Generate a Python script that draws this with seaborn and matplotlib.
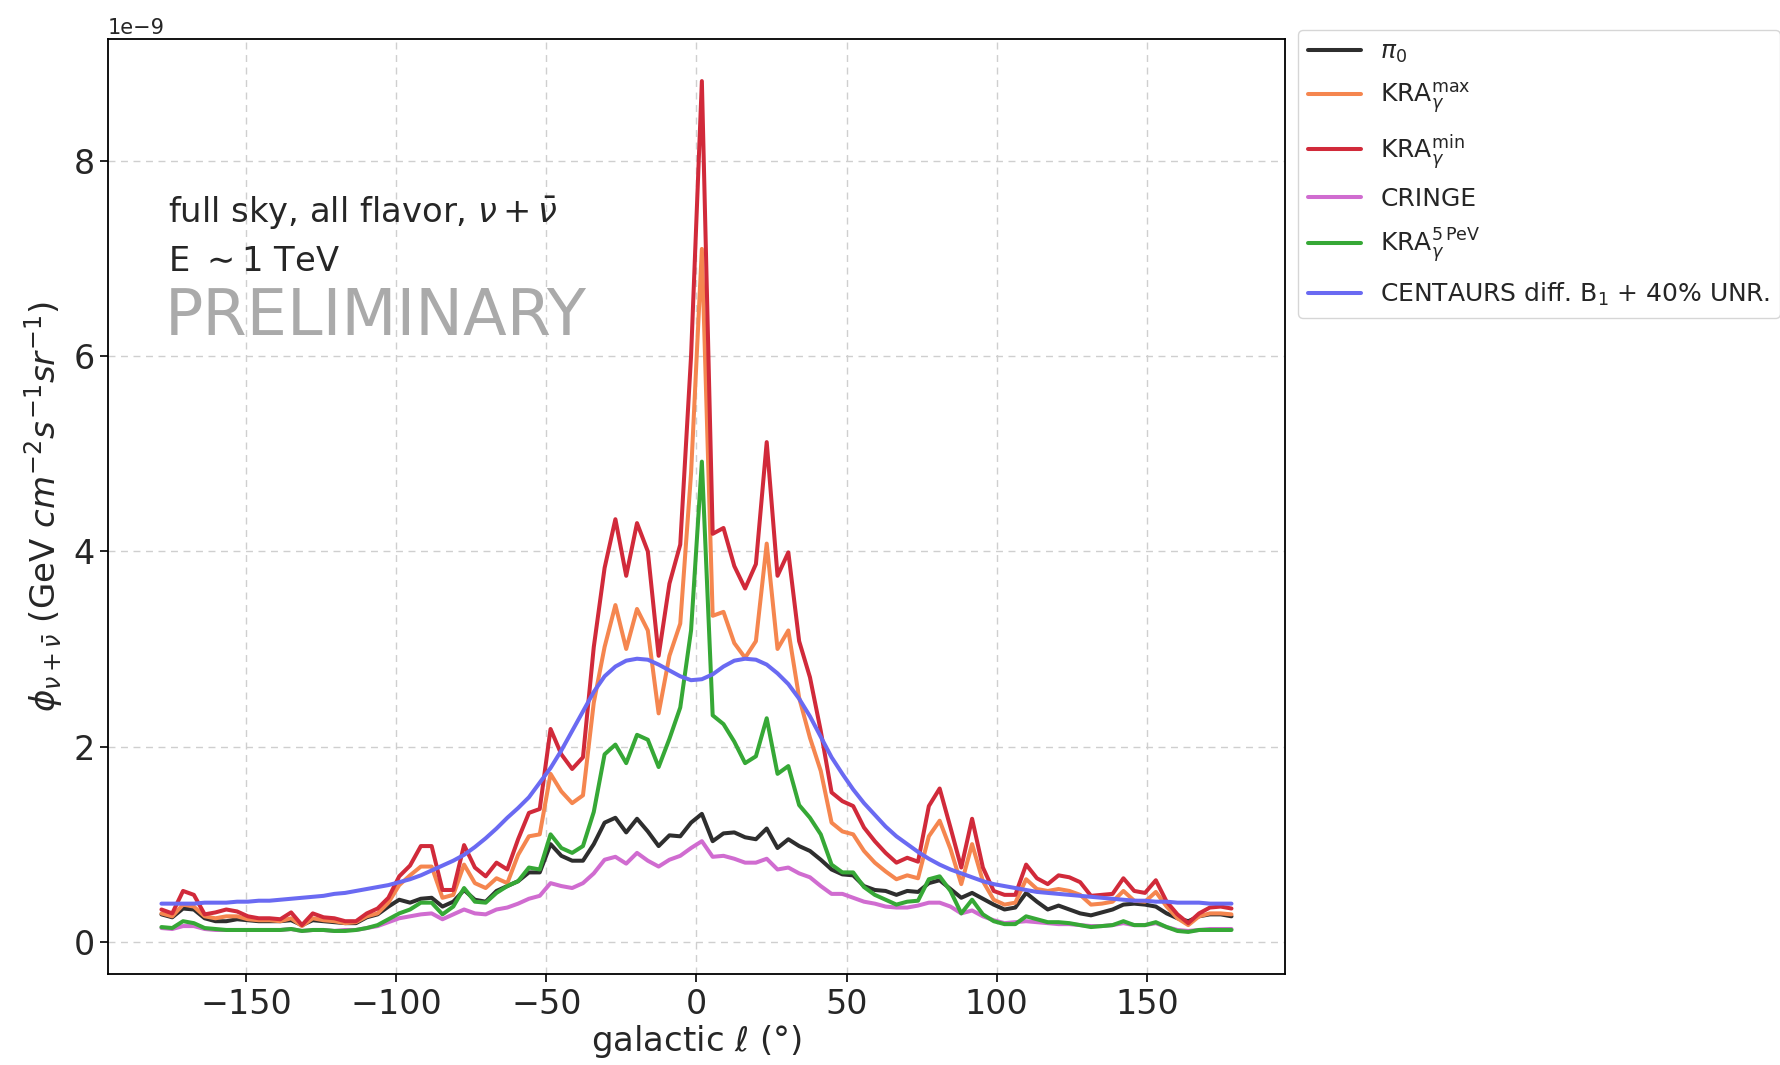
import numpy as np
import pandas as pd
import matplotlib
matplotlib.use("Agg")
import matplotlib.pyplot as plt
import seaborn as sns

# galactic longitude bin centres (100 bins of 3.6 deg)
l_deg = np.linspace(-178.2, 178.2, 100)

pi0 = [0.28, 0.25, 0.34, 0.33, 0.24, 0.21, 0.21, 0.23, 0.22, 0.21,
       0.21, 0.21, 0.22, 0.17, 0.22, 0.21, 0.20, 0.19, 0.19, 0.25,
       0.28, 0.36, 0.43, 0.40, 0.44, 0.45, 0.36, 0.41, 0.53, 0.43,
       0.41, 0.52, 0.57, 0.62, 0.71, 0.71, 1.00, 0.88, 0.83, 0.83,
       1.00, 1.22, 1.27, 1.12, 1.26, 1.13, 0.98, 1.09, 1.08, 1.22,
       1.31, 1.03, 1.11, 1.12, 1.07, 1.05, 1.16, 0.96, 1.05, 0.98,
       0.93, 0.84, 0.74, 0.69, 0.68, 0.57, 0.53, 0.52, 0.48, 0.52,
       0.51, 0.60, 0.63, 0.54, 0.45, 0.50, 0.44, 0.38, 0.33, 0.35,
       0.50, 0.41, 0.33, 0.37, 0.33, 0.29, 0.27, 0.30, 0.33, 0.38,
       0.39, 0.38, 0.36, 0.29, 0.24, 0.21, 0.26, 0.28, 0.28, 0.26]

kra_max = [0.29, 0.26, 0.38, 0.36, 0.26, 0.24, 0.26, 0.26, 0.23, 0.22,
           0.22, 0.21, 0.24, 0.16, 0.24, 0.22, 0.21, 0.19, 0.20, 0.26,
           0.29, 0.40, 0.58, 0.68, 0.77, 0.77, 0.45, 0.48, 0.79, 0.60,
           0.55, 0.65, 0.60, 0.89, 1.08, 1.10, 1.72, 1.54, 1.42, 1.50,
           2.45, 3.02, 3.45, 3.00, 3.41, 3.19, 2.34, 2.93, 3.26, 4.80,
           7.10, 3.34, 3.38, 3.06, 2.91, 3.08, 4.08, 3.00, 3.19, 2.50,
           2.09, 1.75, 1.22, 1.13, 1.10, 0.93, 0.81, 0.72, 0.64, 0.68,
           0.65, 1.08, 1.24, 0.95, 0.59, 1.00, 0.62, 0.43, 0.38, 0.40,
           0.64, 0.54, 0.52, 0.54, 0.52, 0.48, 0.38, 0.39, 0.41, 0.52,
           0.42, 0.41, 0.51, 0.36, 0.24, 0.17, 0.26, 0.29, 0.29, 0.28]

kra_min = [0.33, 0.29, 0.52, 0.48, 0.28, 0.30, 0.33, 0.31, 0.26, 0.24,
           0.24, 0.23, 0.30, 0.17, 0.29, 0.25, 0.24, 0.21, 0.21, 0.29,
           0.34, 0.45, 0.67, 0.78, 0.98, 0.98, 0.53, 0.53, 0.99, 0.76,
           0.67, 0.81, 0.74, 1.05, 1.32, 1.36, 2.18, 1.92, 1.77, 1.89,
           3.02, 3.83, 4.33, 3.75, 4.29, 4.00, 2.93, 3.67, 4.07, 6.00,
           8.82, 4.18, 4.24, 3.85, 3.62, 3.87, 5.12, 3.75, 3.99, 3.08,
           2.71, 2.16, 1.53, 1.44, 1.39, 1.17, 1.03, 0.91, 0.81, 0.86,
           0.82, 1.39, 1.57, 1.17, 0.76, 1.26, 0.76, 0.52, 0.48, 0.48,
           0.79, 0.65, 0.59, 0.68, 0.66, 0.61, 0.47, 0.48, 0.49, 0.65,
           0.52, 0.50, 0.63, 0.41, 0.28, 0.19, 0.29, 0.35, 0.36, 0.34]

cringe = [0.14, 0.13, 0.16, 0.16, 0.13, 0.12, 0.12, 0.12, 0.12, 0.12,
          0.12, 0.12, 0.13, 0.11, 0.12, 0.12, 0.11, 0.12, 0.12, 0.14,
          0.16, 0.20, 0.24, 0.26, 0.28, 0.29, 0.23, 0.28, 0.33, 0.29,
          0.28, 0.33, 0.35, 0.39, 0.44, 0.47, 0.60, 0.57, 0.55, 0.60,
          0.70, 0.84, 0.87, 0.80, 0.91, 0.83, 0.77, 0.84, 0.88, 0.96,
          1.03, 0.87, 0.88, 0.85, 0.81, 0.81, 0.85, 0.74, 0.76, 0.70,
          0.66, 0.57, 0.49, 0.49, 0.45, 0.41, 0.39, 0.36, 0.35, 0.35,
          0.37, 0.40, 0.40, 0.36, 0.29, 0.32, 0.26, 0.22, 0.19, 0.20,
          0.21, 0.20, 0.19, 0.18, 0.18, 0.17, 0.16, 0.16, 0.17, 0.19,
          0.17, 0.17, 0.19, 0.15, 0.12, 0.11, 0.12, 0.13, 0.13, 0.13]

kra_5pev = [0.15, 0.14, 0.21, 0.19, 0.14, 0.13, 0.12, 0.12, 0.12, 0.12,
            0.12, 0.12, 0.13, 0.11, 0.12, 0.12, 0.11, 0.11, 0.12, 0.14,
            0.17, 0.23, 0.29, 0.33, 0.40, 0.40, 0.28, 0.36, 0.55, 0.41,
            0.40, 0.50, 0.57, 0.62, 0.76, 0.74, 1.10, 0.96, 0.91, 0.98,
            1.33, 1.92, 2.02, 1.83, 2.12, 2.07, 1.79, 2.08, 2.40, 3.19,
            4.92, 2.32, 2.23, 2.05, 1.83, 1.90, 2.29, 1.72, 1.80, 1.40,
            1.27, 1.10, 0.79, 0.71, 0.71, 0.56, 0.48, 0.43, 0.38, 0.41,
            0.42, 0.64, 0.67, 0.52, 0.29, 0.43, 0.28, 0.21, 0.18, 0.18,
            0.26, 0.23, 0.20, 0.20, 0.19, 0.17, 0.15, 0.16, 0.17, 0.21,
            0.17, 0.17, 0.20, 0.15, 0.11, 0.10, 0.12, 0.12, 0.12, 0.12]

centaurs = [0.39, 0.39, 0.39, 0.39, 0.40, 0.40, 0.40, 0.41, 0.41, 0.42,
            0.42, 0.43, 0.44, 0.45, 0.46, 0.47, 0.49, 0.50, 0.52, 0.54,
            0.56, 0.58, 0.61, 0.64, 0.68, 0.73, 0.78, 0.83, 0.89, 0.97,
            1.06, 1.16, 1.27, 1.37, 1.48, 1.63, 1.78, 1.96, 2.16, 2.36,
            2.56, 2.72, 2.82, 2.88, 2.90, 2.89, 2.84, 2.78, 2.72, 2.68,
            2.69, 2.74, 2.82, 2.88, 2.90, 2.89, 2.84, 2.75, 2.64, 2.49,
            2.31, 2.10, 1.89, 1.72, 1.56, 1.42, 1.30, 1.18, 1.08, 1.00,
            0.92, 0.85, 0.79, 0.74, 0.70, 0.66, 0.62, 0.59, 0.57, 0.55,
            0.53, 0.51, 0.50, 0.49, 0.48, 0.47, 0.46, 0.45, 0.44, 0.43,
            0.42, 0.42, 0.41, 0.41, 0.40, 0.40, 0.40, 0.39, 0.39, 0.39]

labels = [r"$\pi_0$",
          r"KRA$_\gamma^\mathrm{max}$",
          r"KRA$_\gamma^\mathrm{min}$",
          "CRINGE",
          r"KRA$_\gamma^\mathrm{5\,PeV}$",
          r"CENTAURS diff. B$_1$ + 40% UNR."]
series = [pi0, kra_max, kra_min, cringe, kra_5pev, centaurs]
colors = ["#2e2e2e", "#f5864f", "#d12a3a", "#d06cd0", "#36a836", "#6a6af2"]

rows = []
for lab, vals in zip(labels, series):
    for x, v in zip(l_deg, vals):
        rows.append({"l": x, "phi": v * 1e-9, "model": lab})
df = pd.DataFrame(rows)

sns.set_theme(style="white")
plt.rcParams["font.family"] = ["DejaVu Sans"]
plt.rcParams["mathtext.fontset"] = "dejavusans"

fig = plt.figure(figsize=(17.81, 10.65), dpi=100)
ax = fig.add_axes([0.0606, 0.085, 0.6609, 0.8788])

sns.lineplot(data=df, x="l", y="phi", hue="model", hue_order=labels,
             palette=dict(zip(labels, colors)), linewidth=2.9, ax=ax,
             legend=True, sort=False)

ax.grid(True, linestyle=(0, (5, 4)), color="#cfcfcf", linewidth=1.0)
for s in ax.spines.values():
    s.set_color("black")
    s.set_linewidth(1.3)
ax.tick_params(axis="both", which="major", labelsize=24, direction="out",
               length=6, width=1.2, left=True, bottom=True, color="black")
ax.yaxis.get_offset_text().set_fontsize(15)
ax.set_xticks([-150, -100, -50, 0, 50, 100, 150])
ax.set_yticks(np.array([0, 2, 4, 6, 8]) * 1e-9)

ax.set_xlabel(r"galactic $\ell$ (°)", fontsize=24.5, labelpad=2)
ax.set_ylabel(r"$\phi_{\nu+\bar{\nu}}$ (GeV $cm^{-2}s^{-1}sr^{-1}$)",
              fontsize=24.5, labelpad=6)

ax.text(-176, 7.47e-9, r"full sky, all flavor, $\nu + \bar{\nu}$",
        fontsize=24.3, va="center", ha="left")
ax.text(-176, 6.97e-9, r"E $\sim$1 TeV", fontsize=24.3, va="center", ha="left")
ax.text(-177, 6.40e-9, "PRELIMINARY", fontsize=46, color="#aaaaaa",
        va="center", ha="left")

handles, labs = ax.get_legend_handles_labels()
ax.legend_.remove()
leg = fig.legend(handles, labs, loc="upper left",
                 bbox_to_anchor=(1298 / 1781, 1 - 30 / 1065),
                 fontsize=18, frameon=True, labelspacing=0.62,
                 handlelength=2.1, borderaxespad=0)
leg.get_frame().set_edgecolor("#cccccc")
for h in leg.get_lines():
    h.set_linewidth(2.9)

fig.savefig("out.png", dpi=100)
